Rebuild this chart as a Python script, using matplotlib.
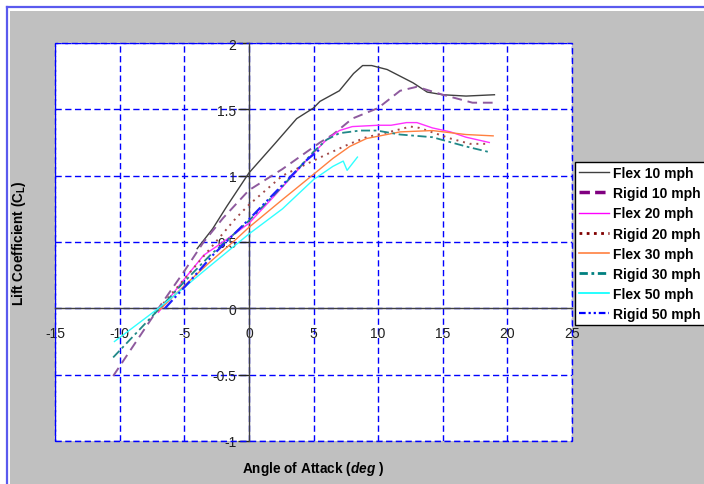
import numpy as np
import matplotlib
matplotlib.use('Agg')
import matplotlib.pyplot as plt
from matplotlib.lines import Line2D
from matplotlib.patches import Rectangle

plt.rcParams['font.family'] = ['Liberation Sans', 'DejaVu Sans']
plt.rcParams['mathtext.fontset'] = 'custom'
plt.rcParams['mathtext.rm'] = 'Liberation Sans:bold'
plt.rcParams['mathtext.it'] = 'Liberation Sans:bold:italic'
plt.rcParams['axes.unicode_minus'] = False

# data (angle of attack in deg, lift coefficient)
flex10_a = [-4, -2.8, -1.7, 0, 2, 3.7, 5, 5.5, 7, 8.1, 8.8, 9.5, 10.7, 11.7, 12.7, 13.8, 15, 16.8, 19]
flex10_cl = [0.45, 0.6, 0.77, 1.02, 1.24, 1.43, 1.51, 1.56, 1.64, 1.77, 1.83, 1.83, 1.80, 1.75, 1.70, 1.63, 1.61, 1.60, 1.61]

rigid10_a = [-10.5, -7, -5, -3.5, -2, 0, 2.6, 5.5, 6.5, 8, 10, 11.7, 13, 15, 17.3, 19]
rigid10_cl = [-0.51, 0.0, 0.28, 0.5, 0.68, 0.89, 1.05, 1.25, 1.31, 1.43, 1.51, 1.64, 1.67, 1.61, 1.55, 1.55]

flex20_a = [-7, -5, -3.5, -2, 0, 2, 4.5, 6, 7, 8, 10, 11, 12.2, 13, 14.2, 15.6, 16.8, 18.6]
flex20_cl = [-0.03, 0.22, 0.4, 0.5, 0.64, 0.85, 1.12, 1.27, 1.34, 1.37, 1.38, 1.38, 1.40, 1.40, 1.36, 1.33, 1.29, 1.25]

rigid20_a = [-7.3, -5, -3, -1, 0, 2.6, 6, 7.8, 9.1, 10.9, 12.5, 13.2, 15.6, 17.1, 18.6]
rigid20_cl = [-0.04, 0.22, 0.45, 0.68, 0.78, 1.0, 1.16, 1.24, 1.29, 1.33, 1.37, 1.36, 1.28, 1.24, 1.24]

flex30_a = [-7, -5, -3, -1, 0, 2.6, 5, 6.5, 7.8, 9.1, 11.7, 14.2, 16.8, 18.9]
flex30_cl = [-0.02, 0.17, 0.35, 0.52, 0.61, 0.82, 1.01, 1.13, 1.22, 1.28, 1.33, 1.34, 1.31, 1.30]

rigid30_a = [-10.5, -7, -5, -3, 0, 2.6, 5, 6, 7, 8.6, 9.9, 11.7, 14.2, 16.8, 18.5]
rigid30_cl = [-0.37, -0.01, 0.2, 0.4, 0.66, 0.92, 1.18, 1.27, 1.32, 1.34, 1.34, 1.31, 1.29, 1.22, 1.18]

flex50_a = [-10.4, -7, -5.1, -3, 0, 2.6, 5, 6.5, 7.3, 7.6, 8.4]
flex50_cl = [-0.25, 0.0, 0.15, 0.32, 0.56, 0.75, 0.97, 1.07, 1.11, 1.04, 1.14]

rigid50_a = [-6.5, -4.6, -2.8, 0, 2.6, 4.5, 5.5]
rigid50_cl = [0.0, 0.2, 0.4, 0.67, 0.93, 1.12, 1.2]

labels = ['Flex 10 mph', 'Rigid 10 mph', 'Flex 20 mph', 'Rigid 20 mph',
          'Flex 30 mph', 'Rigid 30 mph', 'Flex 50 mph', 'Rigid 50 mph']
x_ticks = [-15, -10, -5, 0, 5, 10, 15, 20, 25]
y_ticks = [-1, -0.5, 0, 0.5, 1, 1.5, 2]
y_ticklabels = ['-1', '-0.5', '0', '0.5', '1', '1.5', '2']

fig = plt.figure(figsize=(7.04, 4.85), dpi=100)
fig.patch.set_facecolor('white')

# grey background and blue frame lines
fig.add_artist(Rectangle((10/704, 0), 1 - 10/704, 1 - 12/485, transform=fig.transFigure,
                         facecolor='#c0c0c0', edgecolor='none', zorder=-10))
fig.add_artist(Line2D([7.5/704, 1], [1 - 7.5/485, 1 - 7.5/485], transform=fig.transFigure,
                      color='#5a5aee', lw=1.6))
fig.add_artist(Line2D([7.5/704, 7.5/704], [0, 1 - 7.5/485], transform=fig.transFigure,
                      color='#5a5aee', lw=1.6))

ax = fig.add_axes([55/704, 1 - 442/485, 517/704, 398/485])
ax.set_facecolor('white')

ax.plot(flex10_a, flex10_cl, color='#404040', lw=1.0)
ax.plot(rigid10_a, rigid10_cl, color='#8e5a9e', lw=1.4, dashes=(5, 3))
ax.plot(flex20_a, flex20_cl, color='#ff30ff', lw=1.0)
ax.plot(rigid20_a, rigid20_cl, color='#a04848', lw=1.4, dashes=(1, 2.5))
ax.plot(flex30_a, flex30_cl, color='#ff8040', lw=1.0)
ax.plot(rigid30_a, rigid30_cl, color='#208888', lw=1.3, dashes=(5, 2, 1.5, 2))
ax.plot(flex50_a, flex50_cl, color='#30ffff', lw=1.0)
ax.plot(rigid50_a, rigid50_cl, color='#2020ff', lw=1.6, dashes=(5, 1.5, 1, 1.5, 1, 1.5))

ax.set_xlim(-15, 25)
ax.set_ylim(-1, 2)
ax.set_xticks(x_ticks)
ax.set_yticks(y_ticks)
ax.set_yticklabels(y_ticklabels)

ax.grid(True, color='#0000ff', lw=1.0, linestyle=(0, (4.5, 2.5)))
ax.set_axisbelow(True)

ax.spines['left'].set_position(('data', 0))
ax.spines['bottom'].set_position(('data', 0))
ax.spines['top'].set_visible(False)
ax.spines['right'].set_visible(False)
for s in ('left', 'bottom'):
    ax.spines[s].set_color('#404040')
    ax.spines[s].set_linewidth(1.0)
    ax.spines[s].set_zorder(1.5)

ax.add_patch(Rectangle((0, 0), 1, 1, transform=ax.transAxes, fill=False,
                       edgecolor='#0000ff', lw=1.0, linestyle=(0, (4.5, 2.5)), clip_on=False))

ax.tick_params(axis='both', labelsize=10, colors='#202020', width=1.0)
ax.tick_params(axis='y', direction='out', length=8, pad=1)
ax.tick_params(axis='x', direction='out', length=0, pad=13)

ax.set_xlabel('Angle of Attack ($\\mathit{deg}$ )', fontsize=9.8, fontweight='bold')
ax.set_ylabel('Lift Coefficient (C$_{\\mathrm{L}}$)', fontsize=9.8, fontweight='bold')
ax.xaxis.set_label_coords(0.5, -0.046)
ax.yaxis.set_label_coords(-0.052, 0.5)

handles = [
    Line2D([], [], color='#404040', lw=1.0),
    Line2D([], [], color='#800080', lw=2.5, dashes=(3, 1.5)),
    Line2D([], [], color='#ff00ff', lw=1.0),
    Line2D([], [], color='#800000', lw=2.0, dashes=(1, 1.6)),
    Line2D([], [], color='#ff8040', lw=1.2),
    Line2D([], [], color='#008080', lw=2.0, dashes=(3, 1.3, 1, 1.3)),
    Line2D([], [], color='#00ffff', lw=1.2),
    Line2D([], [], color='#0000ff', lw=1.6, dashes=(3, 1.3, 1, 1.3, 1, 1.3)),
]
leg = fig.legend(handles, labels, loc='upper left', bbox_to_anchor=(575/704, 1 - 163/485),
                 bbox_transform=fig.transFigure, borderaxespad=0, frameon=True, fancybox=False,
                 prop={'weight': 'bold', 'size': 10}, handlelength=2.15, handletextpad=0.3,
                 labelspacing=0.44, borderpad=0.3)
leg.get_frame().set_edgecolor('black')
leg.get_frame().set_linewidth(1.0)
leg.get_frame().set_facecolor('white')
leg.get_frame().set_alpha(1)

plt.savefig('out.png', dpi=100, facecolor=fig.get_facecolor())
